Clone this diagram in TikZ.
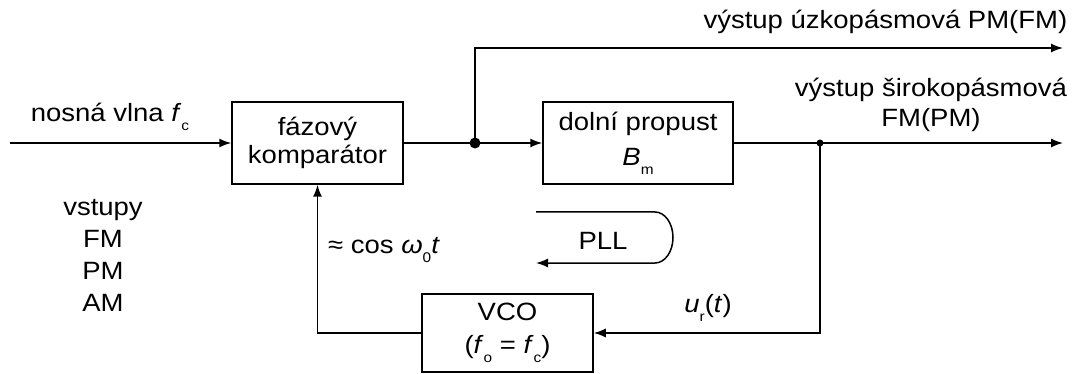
\documentclass[tikz,border=0pt]{standalone}
\usepackage{fontspec}
\setmainfont{Liberation Sans}[FakeStretch=1.1]
\usetikzlibrary{arrows.meta}
\newcommand\lsub[1]{\raisebox{-0.7ex}{\fontsize{14}{14}\selectfont #1}}
\newcommand\iv[1]{\textit{#1}}
\begin{document}
\begin{tikzpicture}[x=1pt,y=-1pt, line width=1.5pt,
  box/.style={draw, rectangle, inner sep=0pt, align=center},
  arr/.style={-{Latex[length=12pt,width=9pt]}},
  lbl/.style={inner sep=0pt, align=center},
  font=\fontsize{25}{28}\selectfont]
\useasboundingbox (0,0) rectangle (1073,374);

\node[box, minimum width=171pt, minimum height=82pt] (comp) at (317.5,143) {fázový\\komparátor};
\node[box, minimum width=190pt, minimum height=82pt] (lpf) at (638,143) {dolní propust\\[7pt]\iv{B}\lsub{m}};
\node[box, minimum width=171pt, minimum height=78pt] (vco) at (507.5,333) {VCO\\[5pt](\iv{f}\lsub{o} = \iv{f}\lsub{c})};

\coordinate (in) at (10,143);
\coordinate (j1) at (475,143);
\coordinate (j2) at (820,143);
\coordinate (o1) at (1063,48);
\coordinate (o2) at (1063,143);

\draw[arr] (in) -- (comp.west);
\draw (comp.east) -- (j1);
\draw[arr] (j1) -- (lpf.west);
\draw[arr] (j1) |- (o1);
\draw (lpf.east) -- (j2);
\draw[arr] (j2) -- (o2);
\draw[arr] (j2) |- (vco.east);
\draw[arr] (vco.west) -| (comp.south);
\fill (j1) circle[radius=5.5pt];
\fill (j2) circle[radius=3.5pt];

\node[lbl, anchor=west] (nos) at (30,117) {nosná vlna \iv{f}\lsub{c}};
\node[lbl, font=\fontsize{25}{32}\selectfont] (vst) at (103,255) {vstupy\\FM\\PM\\AM};
\node[lbl, anchor=east] (o1t) at (1068,22) {výstup úzkopásmová PM(FM)};
\node[lbl, font=\fontsize{25}{30}\selectfont] (o2t) at (931,105) {výstup širokopásmová\\FM(PM)};
\node[lbl] (cos) at (384,250) {≈ cos \iv{ω}\lsub{0}\iv{t}};
\node[lbl] (ur) at (708,308) {\iv{u}\lsub{r}(\iv{t})};
\node[lbl] (pll) at (603,241) {PLL};
\draw[arr] (536,212) -- (655,212) arc[start angle=-90, end angle=90, x radius=18, y radius=25.5] -- (536,263);
\end{tikzpicture}
\end{document}
